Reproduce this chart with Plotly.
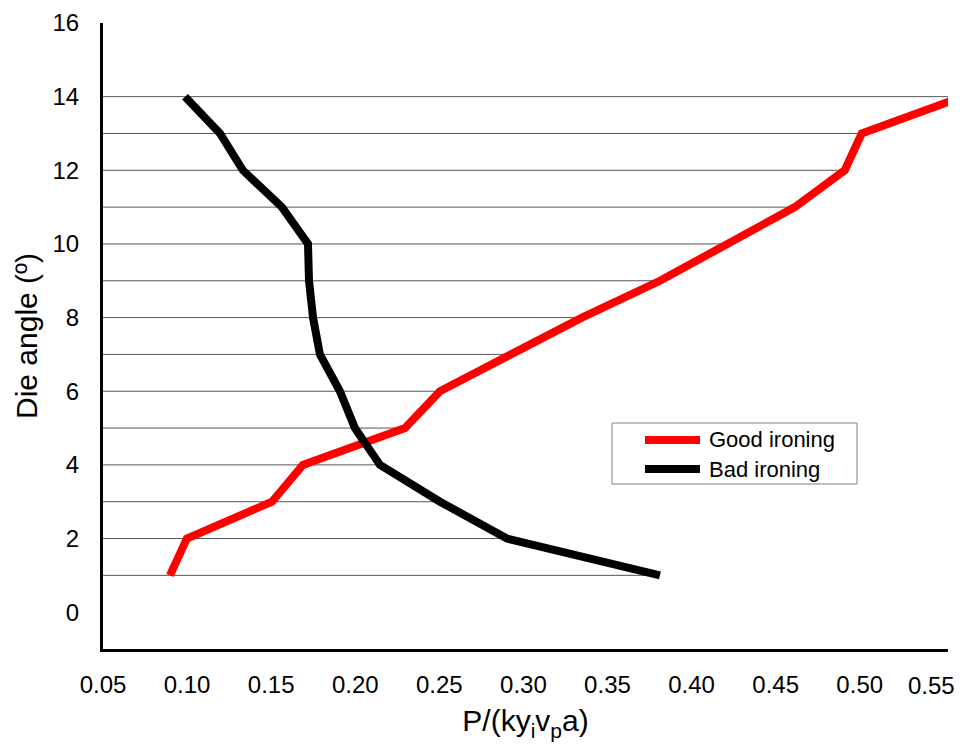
import plotly.graph_objects as go

# Die angle (degrees) levels
angles = [1, 2, 3, 4, 5, 6, 7, 8, 9, 10, 11, 12, 13, 14]

# P/(k y_i v_p a) for good ironing (red) and bad ironing (black)
good_x = [0.0898, 0.0999, 0.1505, 0.1689, 0.2296, 0.2504, 0.2926, 0.3348,
          0.3812, 0.4210, 0.4614, 0.4911, 0.5012, 0.5613]
bad_x = [0.3812, 0.2902, 0.2504, 0.2147, 0.1998, 0.1909, 0.1790, 0.1749,
         0.1725, 0.1719, 0.1564, 0.1332, 0.1196, 0.0988]

series_names = ["Good ironing", "Bad ironing"]
series_colors = ["#ff0000", "#000000"]

x_ticks = [0.05, 0.10, 0.15, 0.20, 0.25, 0.30, 0.35, 0.40, 0.45, 0.50, 0.55]
y_ticks = [0, 2, 4, 6, 8, 10, 12, 14, 16]

FONT = "Liberation Sans, Arial, sans-serif"

# horizontal drop lines from the y axis to the farthest point at each angle
drop_x, drop_y = [], []
for a, g, b in zip(angles, good_x, bad_x):
    drop_x += [x_ticks[0], max(g, b), None]
    drop_y += [a, a, None]

fig = go.Figure()
fig.add_trace(go.Scatter(x=drop_x, y=drop_y, mode="lines",
                         line=dict(color="#555555", width=1),
                         showlegend=False, hoverinfo="skip"))
for xs, name, col in zip([good_x, bad_x], series_names, series_colors):
    fig.add_trace(go.Scatter(x=xs, y=angles, mode="lines", name=name,
                             line=dict(color=col, width=8), showlegend=False))

# legend drawn manually (box, long line samples, labels)
shapes = [dict(type="rect", xref="paper", yref="paper",
               x0=0.6024, x1=0.8923, y0=0.2636, y1=0.361,
               line=dict(color="#808080", width=1), fillcolor="white",
               layer="above")]
annotations = []
for i, (name, col) in enumerate(zip(series_names, series_colors)):
    yy = 0.3339 - i * 0.0464
    shapes.append(dict(type="line", xref="paper", yref="paper",
                       x0=0.6414, x1=0.7065, y0=yy, y1=yy,
                       line=dict(color=col, width=8), layer="above"))
    annotations.append(dict(xref="paper", yref="paper", x=0.7145, y=yy,
                            xanchor="left", yanchor="middle", showarrow=False,
                            text=name, font=dict(size=22, family=FONT)))

# last tick label drawn as an annotation nudged left to stay inside the page
x_ticktext = [f"{v:.2f}" for v in x_ticks]
last_label = x_ticktext[-1]
x_ticktext[-1] = ""
annotations.append(dict(xref="x", yref="paper", x=x_ticks[-1], y=0,
                        xanchor="center", yanchor="middle", xshift=-12,
                        yshift=-36, showarrow=False, text=last_label,
                        font=dict(size=24, family=FONT)))

fig.update_layout(
    width=964, height=746,
    margin=dict(l=103, r=16, t=23, b=97, autoexpand=False),
    plot_bgcolor="white", paper_bgcolor="white",
    font=dict(family=FONT, color="black", size=24),
    showlegend=False,
    shapes=shapes, annotations=annotations,
)
fig.update_xaxes(range=[0.05, 0.5525], tickvals=x_ticks,
                 ticktext=x_ticktext, automargin=False,
                 showgrid=False, zeroline=False, showline=True,
                 linecolor="black", linewidth=3, ticks="",
                 ticklabelstandoff=12,
                 tickfont=dict(size=24),
                 title=dict(text="P/(ky<sub>i</sub>v<sub>p</sub>a)",
                            font=dict(size=30), standoff=14))
fig.update_yaxes(range=[-1, 16], tickvals=y_ticks, automargin=False,
                 showgrid=False, zeroline=False, showline=True,
                 linecolor="black", linewidth=3, ticks="",
                 ticklabelstandoff=16, tickfont=dict(size=24),
                 title=dict(text="Die angle (º)", font=dict(size=30),
                            standoff=6))

fig.write_html("out.html")
